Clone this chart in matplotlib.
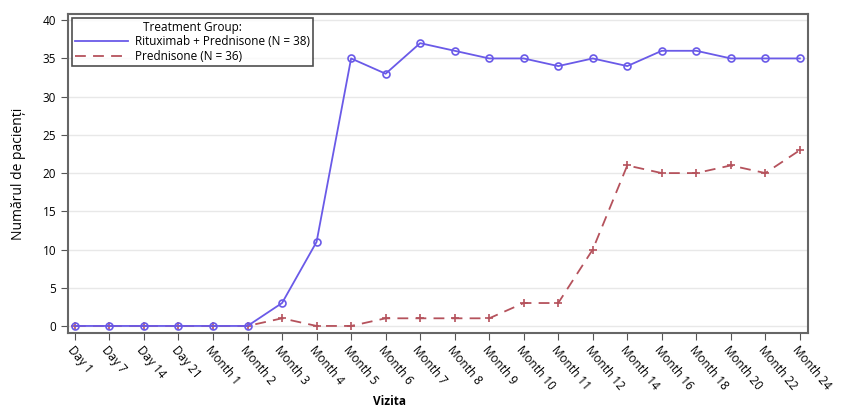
import matplotlib
matplotlib.use("Agg")
import matplotlib.pyplot as plt

categories = ["Day 1", "Day 7", "Day 14", "Day 21", "Month 1", "Month 2", "Month 3",
              "Month 4", "Month 5", "Month 6", "Month 7", "Month 8", "Month 9",
              "Month 10", "Month 11", "Month 12", "Month 14", "Month 16", "Month 18",
              "Month 20", "Month 22", "Month 24"]
ritux = [0, 0, 0, 0, 0, 0, 3, 11, 35, 33, 37, 36, 35, 35, 34, 35, 34, 36, 36, 35, 35, 35]
pred = [0, 0, 0, 0, 0, 0, 1, 0, 0, 1, 1, 1, 1, 3, 3, 10, 21, 20, 20, 21, 20, 23]
yticks = [0, 5, 10, 15, 20, 25, 30, 35, 40]

plt.rcParams['font.family'] = ['Open Sans', 'DejaVu Sans']

fig = plt.figure(figsize=(8.45, 4.15), dpi=100)
ax = fig.add_axes([0.0805, 0.198, 0.8755, 0.768])

x = list(range(len(categories)))
ax.plot(x, pred, color='#b5525c', linestyle=(0, (6, 4)), linewidth=1.3,
        marker='+', markersize=6, markeredgewidth=1.2, label='Prednisone (N = 36)', zorder=3)
ax.plot(x, ritux, color='#6a5ae8', linestyle='-', linewidth=1.3,
        marker='o', markersize=5, markerfacecolor='none', markeredgewidth=1.2,
        label='Rituximab + Prednisone (N = 38)', zorder=4)

ax.set_xlim(-0.2, 21.23)
ax.set_ylim(-0.9, 40.8)
ax.set_yticks(yticks)
ax.set_xticks(x)
ax.set_xticklabels(categories, rotation=-50, ha='left', va='top', rotation_mode='anchor', fontsize=8.5)
ax.tick_params(axis='y', labelsize=8.5, length=5, color='#555555')
ax.tick_params(axis='x', length=5, color='#555555', pad=3)
ax.yaxis.grid(True, color='#e8e8e8', linewidth=1)
ax.set_axisbelow(True)
for s in ax.spines.values():
    s.set_color('#666666')
    s.set_linewidth(1.5)

ax.set_ylabel('Numărul de pacienți', fontsize=10, labelpad=12)
ax.set_xlabel('Vizita', fontsize=8.5, fontweight='bold')
ax.xaxis.set_label_coords(0.435, -0.195)

handles, labels = ax.get_legend_handles_labels()
leg = ax.legend(handles[::-1], labels[::-1], title='Treatment Group:', loc='upper left',
                fontsize=8.5, title_fontsize=8.5, frameon=True, fancybox=False,
                borderaxespad=0.3, handlelength=4.5, borderpad=0.25, labelspacing=0.15,
                handletextpad=0.6)
for h in leg.legend_handles:
    h.set_marker('')
leg.get_frame().set_edgecolor('#222222')
leg.get_frame().set_linewidth(1.2)

fig.savefig('out.png', dpi=100)
